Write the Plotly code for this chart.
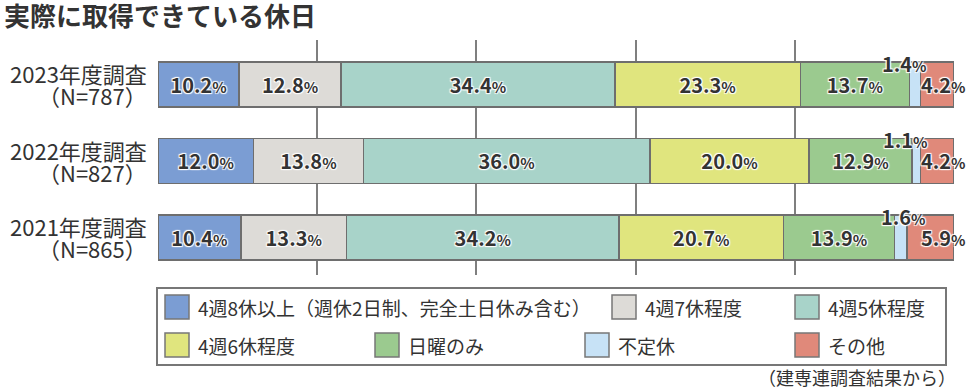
import plotly.graph_objects as go

# ---------------- data ----------------
title_text = "実際に取得できている休日"
years = ["2023年度調査", "2022年度調査", "2021年度調査"]
samples = ["（N=787）", "（N=827）", "（N=865）"]
categories = ["4週8休以上（週休2日制、完全土日休み含む）", "4週7休程度", "4週5休程度",
              "4週6休程度", "日曜のみ", "不定休", "その他"]
v_8days = [10.2, 12.0, 10.4]
v_7days = [12.8, 13.8, 13.3]
v_5days = [34.4, 36.0, 34.2]
v_6days = [23.3, 20.0, 20.7]
v_sunday = [13.7, 12.9, 13.9]
v_irregular = [1.4, 1.1, 1.6]
v_other = [4.2, 4.2, 5.9]
source_text = "（建専連調査結果から）"

series = [v_8days, v_7days, v_5days, v_6days, v_sunday, v_irregular, v_other]

# ---------------- style ----------------
colors = ["#7b9dd3", "#dddbd7", "#a8d3c9", "#e0e57e", "#9bca8f", "#c7e2f6", "#e0897a"]
FONT = "Noto Sans CJK JP"
TXT = "#333333"
SHADOW = "1px 1px 1px #fff, -1px -1px 1px #fff, 1px -1px 1px #fff, -1px 1px 1px #fff"
W, H = 970, 391
L, R, T, B = 158, 16, 40, 116
PW = W - L - R
PH = H - T - B


def px(xp):
    return (xp - L) / PW


def py(yp):
    return (H - B - yp) / PH


def lab(v):
    return f"{v:.1f}<span style='font-size:15px'>%</span>"


fig = go.Figure()
for i, (name, vals) in enumerate(zip(categories, series)):
    show_text = i < 5
    fig.add_trace(go.Bar(
        y=years, x=vals, name=name, orientation="h",
        marker=dict(color=colors[i], line=dict(color="#6e6e6e", width=1.5)),
        width=0.59,
        text=[lab(v) for v in vals] if show_text else None,
        textposition="inside" if show_text else "none",
        insidetextanchor="middle",
        constraintext="none",
        textangle=0,
        textfont=dict(family=FONT, size=20, color=TXT, weight="bold", shadow=SHADOW),
        hoverinfo="skip",
        showlegend=False,
    ))

annotations = []
# labels above the tiny 不定休 segments and on その他 segments
irr_shift = [-11, -11, 3]
for j, yr in enumerate(years):
    before = sum(s[j] for s in series[:5])
    annotations.append(dict(
        x=before + v_irregular[j] / 2, y=yr, xref="x", yref="y",
        text=lab(v_irregular[j]), showarrow=False, yshift=21, xshift=irr_shift[j],
        font=dict(family=FONT, size=20, color=TXT, weight="bold", shadow=SHADOW)))
    total = sum(s[j] for s in series)
    annotations.append(dict(
        x=total, y=yr, xref="x", yref="y", xanchor="right",
        text=lab(v_other[j]), showarrow=False, xshift=14,
        font=dict(family=FONT, size=20, color=TXT, weight="bold", shadow=SHADOW)))
    # category labels (two lines)
    annotations.append(dict(
        x=0, y=yr, xref="x", yref="y", xanchor="right", xshift=-9, yshift=11,
        text=yr, showarrow=False, font=dict(family=FONT, size=22, color=TXT)))
    annotations.append(dict(
        x=0, y=yr, xref="x", yref="y", xanchor="right", xshift=-9, yshift=-11,
        text=samples[j], showarrow=False, font=dict(family=FONT, size=22, color=TXT)))

# title and source
annotations.append(dict(x=px(2), y=py(14), xref="paper", yref="paper", xanchor="left",
                        yanchor="middle", text=f"<b>{title_text}</b>", showarrow=False,
                        font=dict(family=FONT, size=26, color=TXT)))
annotations.append(dict(x=px(958), y=py(377), xref="paper", yref="paper", xanchor="right",
                        yanchor="middle", text=source_text, showarrow=False,
                        font=dict(family=FONT, size=18, color=TXT)))

# manual legend
shapes = [dict(type="rect", xref="paper", yref="paper", x0=px(157), x1=px(946),
               y0=py(288), y1=py(365), line=dict(color="#777777", width=2),
               fillcolor="rgba(0,0,0,0)")]
legend_pos = [(165, 307), (612, 307), (795, 307), (165, 345), (375, 345), (585, 345), (795, 345)]
for (sx, sy), name, c in zip(legend_pos, categories, colors):
    shapes.append(dict(type="rect", xref="paper", yref="paper", x0=px(sx), x1=px(sx + 24),
                       y0=py(sy - 12), y1=py(sy + 12), line=dict(color="#777777", width=1.5),
                       fillcolor=c))
    annotations.append(dict(x=px(sx + 31), y=py(sy), xref="paper", yref="paper",
                            xanchor="left", yanchor="middle", text=name, showarrow=False,
                            font=dict(family=FONT, size=19, color=TXT)))

fig.update_layout(
    width=W, height=H,
    margin=dict(l=L, r=R, t=T, b=B),
    barmode="stack",
    paper_bgcolor="white", plot_bgcolor="white",
    xaxis=dict(range=[0, 100], dtick=20, showgrid=True, gridcolor="#7f7f7f", gridwidth=2,
               showticklabels=False, zeroline=False, showline=False, fixedrange=True),
    yaxis=dict(range=[2.49, -0.58], showticklabels=False, showgrid=False, zeroline=False,
               showline=False, fixedrange=True),
    annotations=annotations,
    shapes=shapes,
    showlegend=False,
    font=dict(family=FONT, color=TXT),
)

fig.write_html("out.html", config={"displayModeBar": False},
               post_script="document.body.style.margin='0';document.body.style.overflow='hidden';")
